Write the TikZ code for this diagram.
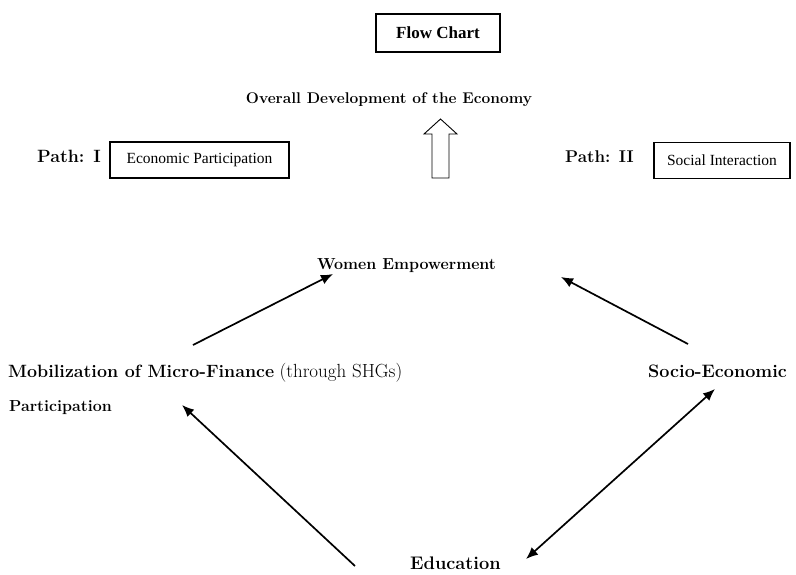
\documentclass[tikz,border=0pt]{standalone}
\usepackage{fontspec}
\setmainfont{Latin Modern Roman}
\newfontfamily\timesfont{Liberation Serif}
\usetikzlibrary{arrows.meta}
\begin{document}
\begin{tikzpicture}[x=1pt,y=-1pt,
  boxed/.style={draw,line width=1.1pt,inner sep=0pt,font=\timesfont},
  lbl/.style={inner sep=0pt,font=\bfseries},
  flow/.style={line width=1.7pt,-{Latex[length=12pt,width=10pt]}},
  flowboth/.style={line width=1.7pt,{Latex[length=12pt,width=10pt]}-{Latex[length=12pt,width=10pt]}}]
\useasboundingbox (0,0) rectangle (796,574);

% heading box
\node[boxed,minimum width=124pt,minimum height=38pt,font=\timesfont\bfseries\fontsize{17}{20}\selectfont] (title) at (438,33) {Flow Chart};

% top goal and hollow arrow
\node[lbl,font=\bfseries\fontsize{15.5}{18}\selectfont] (overall) at (389,100) {Overall Development of the Economy};
\draw[line width=0.9pt,line join=miter] (432,178) -- (449,178) -- (449,134) -- (457,134) -- (440.5,119) -- (424,134) -- (432,134) -- cycle;

% the two paths
\node[lbl,anchor=base west,font=\bfseries\fontsize{17.8}{20}\selectfont] (pathone) at (37,162) {Path: I};
\node[boxed,minimum width=179pt,minimum height=36pt,font=\timesfont\fontsize{15.5}{18}\selectfont] (econ) at (199.5,160) {Economic Participation};
\node[lbl,anchor=base west,font=\bfseries\fontsize{17}{20}\selectfont] (pathtwo) at (565,162) {Path: II};
\node[boxed,minimum width=136pt,minimum height=36pt,font=\timesfont\fontsize{15.5}{18}\selectfont] (social) at (722,160.5) {Social Interaction};

% cycle of factors
\node[lbl,font=\bfseries\fontsize{16}{19}\selectfont] (women) at (406.5,266) {Women Empowerment};
\node[lbl,anchor=base west,font=\fontsize{17.8}{20}\selectfont] (mobil) at (8,377) {\textbf{Mobilization of Micro-Finance} {\fontsize{19}{20}\selectfont(through SHGs)}};
\node[lbl,anchor=base west,font=\bfseries\fontsize{16}{18}\selectfont] (partic) at (9,411) {Participation};
\node[lbl,anchor=base west,font=\bfseries\fontsize{18}{20}\selectfont] (socio) at (648,377) {Socio-Economic};
\node[lbl,anchor=base west,font=\bfseries\fontsize{18.2}{20}\selectfont] (edu) at (410,569.5) {Education};

% connector end points
\coordinate (m1) at (193,345);
\coordinate (w1) at (333,274);
\coordinate (s1) at (688,344);
\coordinate (w2) at (561,277);
\coordinate (e1) at (355,566);
\coordinate (m2) at (182,405);
\coordinate (e2) at (526,559);
\coordinate (s2) at (715,389);

\draw[flow] (m1) -- (w1);
\draw[flow] (s1) -- (w2);
\draw[flow] (e1) -- (m2);
\draw[flowboth] (e2) -- (s2);
\end{tikzpicture}
\end{document}
